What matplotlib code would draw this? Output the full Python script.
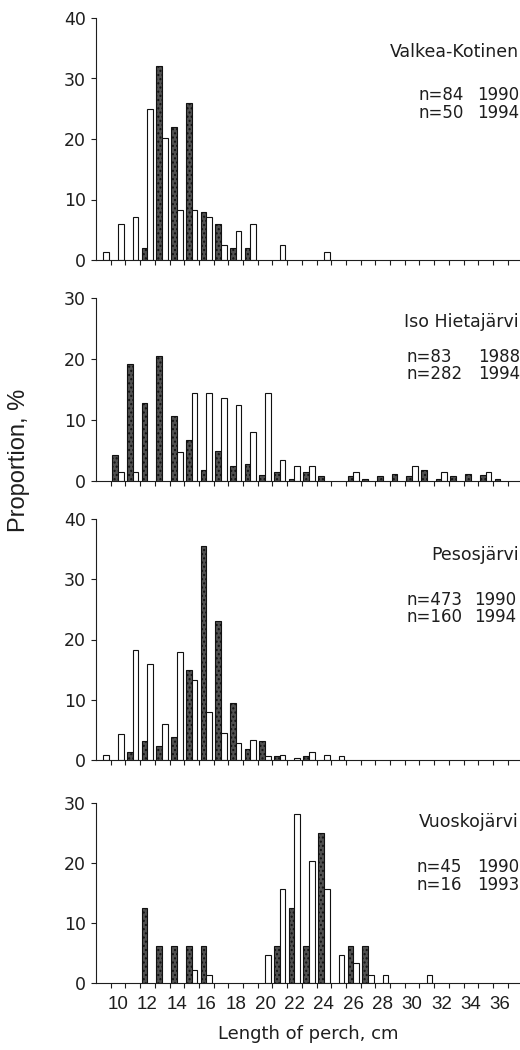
import numpy as np
import matplotlib
matplotlib.use('Agg')
import matplotlib.pyplot as plt
from matplotlib import font_manager

# length classes, cm (9 ... 36)
lengths = np.arange(9, 37)

# proportions, %  (one value per length class)
vk_1990 = [1.4, 6.0, 7.1, 25.0, 20.2, 8.3, 8.3, 7.1, 2.5, 4.8, 6.0, 0, 2.5, 0, 0, 1.4,
           0, 0, 0, 0, 0, 0, 0, 0, 0, 0, 0, 0]
vk_1994 = [0, 0, 0, 2.0, 32.0, 22.0, 26.0, 8.0, 6.0, 2.0, 2.0, 0, 0, 0, 0, 0,
           0, 0, 0, 0, 0, 0, 0, 0, 0, 0, 0, 0]

ih_1988 = [0, 1.5, 1.5, 0, 0, 4.8, 14.5, 14.5, 13.6, 12.4, 8.0, 14.5, 3.5, 2.5, 2.5, 0,
           0, 1.5, 0, 0, 0, 2.5, 0, 1.5, 0, 0, 1.5, 0]
ih_1994 = [0, 4.3, 19.1, 12.8, 20.5, 10.6, 6.7, 1.8, 4.9, 2.5, 2.8, 1.0, 1.4, 0.4, 1.4, 0.8,
           0, 0.8, 0.4, 0.8, 1.1, 0.8, 1.8, 0.4, 0.8, 1.1, 1.0, 0.4]

pe_1990 = [0.9, 4.3, 18.2, 15.9, 5.9, 17.9, 13.2, 8.0, 4.4, 2.9, 3.4, 0.6, 0.8, 0.4, 1.4, 0.9,
           0.7, 0, 0, 0, 0, 0, 0, 0, 0, 0, 0, 0]
pe_1994 = [0, 0, 1.25, 3.1, 2.3, 3.75, 15.0, 35.6, 23.1, 9.4, 1.9, 3.1, 0.6, 0, 0.6, 0,
           0, 0, 0, 0, 0, 0, 0, 0, 0, 0, 0, 0]

vu_1990 = [0, 0, 0, 0, 0, 0, 2.2, 1.4, 0, 0, 0, 4.7, 15.6, 28.2, 20.4, 15.6,
           4.7, 3.4, 1.4, 1.4, 0, 0, 1.4, 0, 0, 0, 0, 0]
vu_1993 = [0, 0, 0, 12.5, 6.25, 6.25, 6.25, 6.25, 0, 0, 0, 0, 6.25, 12.5, 6.25, 25.0,
           0, 6.25, 6.25, 0, 0, 0, 0, 0, 0, 0, 0, 0]

lakes = ['Valkea-Kotinen', 'Iso Hietajärvi', 'Pesosjärvi', 'Vuoskojärvi']
n_labels = [['n=84', 'n=50'], ['n=83', 'n=282'], ['n=473', 'n=160'], ['n=45', 'n=16']]
year_labels = [['1990', '1994'], ['1988', '1994'], ['1990', '1994'], ['1990', '1993']]
white_series = [vk_1990, ih_1988, pe_1990, vu_1990]
dark_series = [vk_1994, ih_1994, pe_1994, vu_1993]
ymax = [40, 30, 40, 30]

names = {f.name for f in font_manager.fontManager.ttflist}
narrow = 'Liberation Sans Narrow' if 'Liberation Sans Narrow' in names else 'Liberation Sans'
plt.rcParams['font.family'] = ['DejaVu Sans']

W, H = 520.0, 1050.0
fig = plt.figure(figsize=(W / 100, H / 100), dpi=100)

# pixel rows of top (ymax) and bottom (0) of each panel
rows = [(18, 260), (298, 481), (519, 760), (803, 983)]
# text placement in pixels: title y, n-lines y, x of n, x of year
text_pos = [(52, (95, 113), 418, 477), (322, (357, 374), 407, 478),
            (555, (600, 617), 407, 474), (822, (867, 885), 417, 477)]

ink = '#1e1e1e'
bw = 0.39

for i in range(4):
    top, bot = rows[i]
    ax = fig.add_axes([96 / W, 1 - bot / H, (W - 96) / W, (bot - top) / H])
    w = np.array(white_series[i], dtype=float)
    d = np.array(dark_series[i], dtype=float)
    mw, md = w > 0, d > 0
    ax.bar(lengths[md] - bw / 2, d[md], width=bw, color='#505050',
           edgecolor='#111111', linewidth=0.8, hatch='....', zorder=2)
    ax.bar(lengths[mw] + bw / 2, w[mw], width=bw, color='white',
           edgecolor='#111111', linewidth=0.8, zorder=2)

    ax.set_xlim(8.5, 8.5 + 424 / 14.7)
    ax.set_ylim(0, ymax[i])
    ax.set_yticks(np.arange(0, ymax[i] + 1, 10))
    ax.set_xticks(np.arange(10, 37, 2))
    ax.set_xticks(np.arange(9.5, 37, 1), minor=True)
    for s in ['top', 'right']:
        ax.spines[s].set_visible(False)
    for s in ['left', 'bottom']:
        ax.spines[s].set_linewidth(0.8)
        ax.spines[s].set_color(ink)
    ax.tick_params(axis='y', length=3.6, width=0.8, color=ink, pad=3.5,
                   labelsize=12.5, labelcolor=ink)
    ax.tick_params(axis='x', which='minor', length=3.6, width=0.8, color=ink)
    ax.tick_params(axis='x', which='major', length=0, pad=9.5, labelsize=13.5,
                   labelcolor=ink, labelbottom=(i == 3))
    for lbl in ax.get_xticklabels():
        lbl.set_family(narrow)

    ty, (ny1, ny2), xn, xy = text_pos[i]
    fig.text(519 / W, 1 - ty / H, lakes[i], ha='right', va='center',
             fontsize=12.5, color=ink)
    for ny, nl, yl in zip((ny1, ny2), n_labels[i], year_labels[i]):
        fig.text(xn / W, 1 - ny / H, nl, ha='left', va='center', fontsize=12, color=ink)
        fig.text(xy / W, 1 - ny / H, yl, ha='left', va='center', fontsize=12, color=ink)

fig.text(19 / W, 1 - 460 / H, 'Proportion, %', rotation=90, ha='center', va='center',
         fontsize=17, family=narrow, color=ink)
fig.text(308 / W, 1 - 1034 / H, 'Length of perch, cm', ha='center', va='center',
         fontsize=13, color=ink)

fig.savefig('out.png', dpi=100)
